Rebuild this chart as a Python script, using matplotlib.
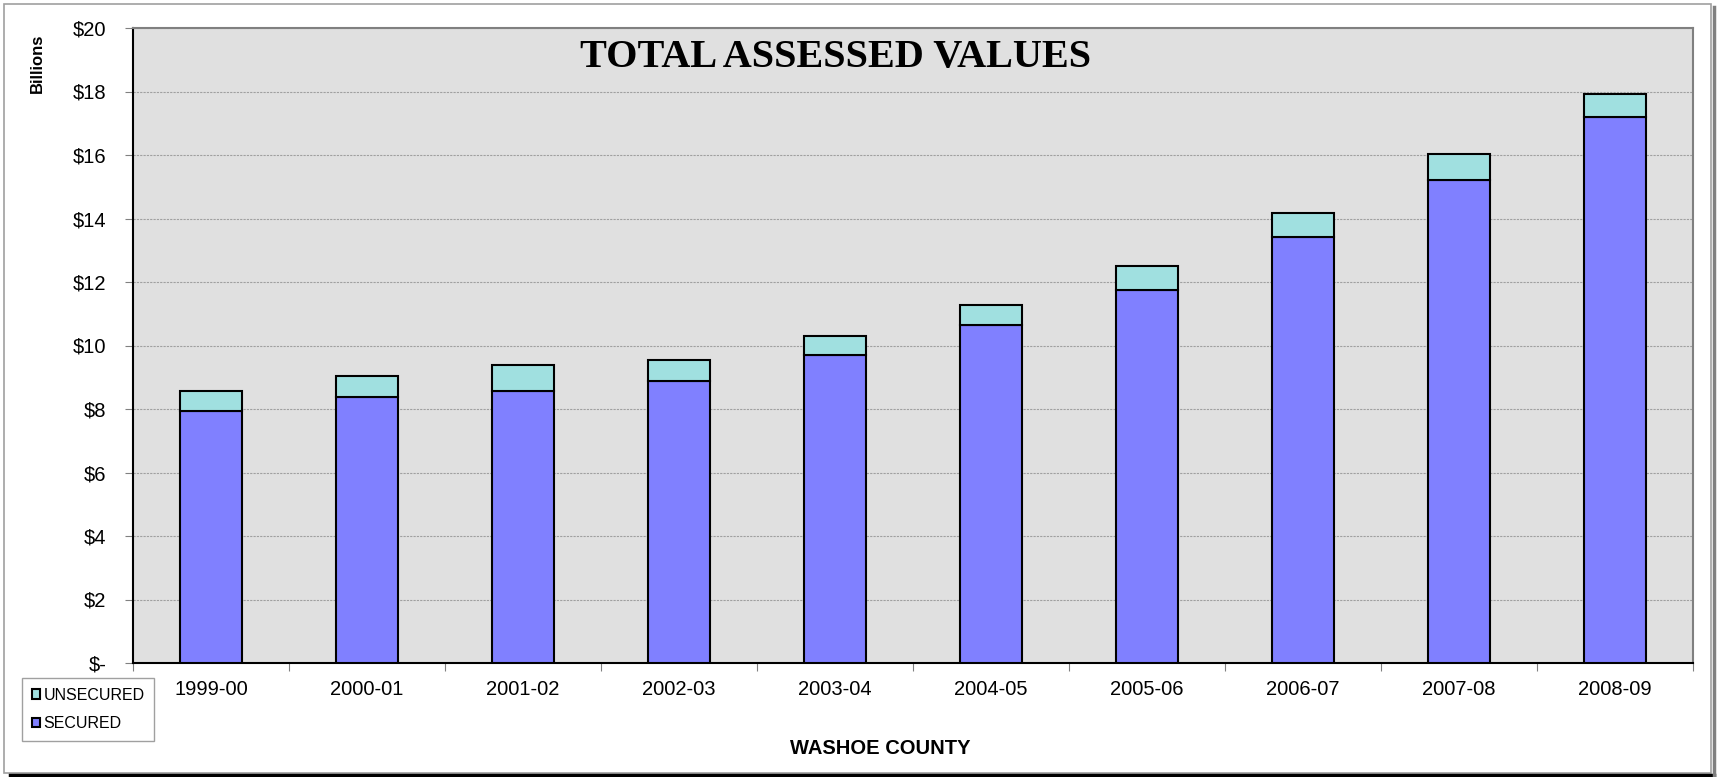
import matplotlib
matplotlib.use('Agg')
import matplotlib.pyplot as plt
import numpy as np
from matplotlib.patches import Rectangle
from matplotlib.lines import Line2D

years = ['1999-00', '2000-01', '2001-02', '2002-03', '2003-04',
         '2004-05', '2005-06', '2006-07', '2007-08', '2008-09']
# billions of dollars
secured = [7.93, 8.37, 8.58, 8.89, 9.70, 10.65, 11.75, 13.42, 15.21, 17.19]
total = [8.58, 9.04, 9.39, 9.53, 10.31, 11.28, 12.50, 14.18, 16.02, 17.93]
unsecured = [t - s for t, s in zip(total, secured)]
ytick_labels = ['$-', '$2', '$4', '$6', '$8', '$10', '$12', '$14', '$16', '$18', '$20']

plt.rcParams['font.family'] = ['Liberation Sans', 'DejaVu Sans']

fig = plt.figure(figsize=(17.17, 7.77), dpi=100)
ax = fig.add_axes([133/1717, 1 - 663/777, (1693 - 133)/1717, (663 - 28)/777])
ax.set_facecolor('#e0e0e0')

x = np.arange(len(years))
ax.bar(x, secured, width=0.4, color='#8080ff', edgecolor='black', linewidth=1.5,
       label='SECURED', zorder=3)
ax.bar(x, unsecured, width=0.4, bottom=secured, color='#a0e0e0', edgecolor='black',
       linewidth=1.5, label='UNSECURED', zorder=3)

ax.set_xlim(-0.5, len(years) - 0.5)
ax.set_ylim(0, 20)
ax.set_yticks(np.arange(0, 21, 2))
ax.set_yticklabels(ytick_labels, fontsize=14.5)
ax.yaxis.grid(True, color='#a0a0a0', linestyle=(0, (2, 1)), linewidth=0.8, zorder=0)

# category boundary ticks, labels in the middle
ax.set_xticks(np.arange(len(years) + 1) - 0.5)
ax.set_xticklabels([])
ax.set_xticks(x, minor=True)
ax.set_xticklabels(years, minor=True, fontsize=14.5)
ax.tick_params(axis='x', which='minor', length=0, pad=12)
ax.tick_params(axis='x', which='major', length=6, color='#808080')
ax.tick_params(axis='y', length=6, color='#808080', pad=13)

for side in ['left', 'bottom']:
    ax.spines[side].set_color('black')
    ax.spines[side].set_linewidth(1.5)
for side in ['top', 'right']:
    ax.spines[side].set_color('#808080')
    ax.spines[side].set_linewidth(1.5)

ax.text(0.4506, 0.9386, 'TOTAL ASSESSED VALUES', transform=ax.transAxes, ha='center',
        va='baseline', fontsize=29, fontweight='bold', family='Liberation Serif')

fig.text(37/1717, 1 - 63/777, 'Billions', rotation=90, ha='center', va='center',
         fontsize=12, fontweight='bold')
fig.text(880/1717, 1 - 748/777, 'WASHOE COUNTY', ha='center', va='center',
         fontsize=14.5, fontweight='bold')

h, l = ax.get_legend_handles_labels()
leg = fig.legend(h[::-1], l[::-1], loc='upper left',
                 bbox_to_anchor=(22/1717, 1 - 678/777), fontsize=11.5,
                 handlelength=0.55, handleheight=0.55, handletextpad=0.2,
                 labelspacing=0.85, borderpad=0.6, borderaxespad=0, fancybox=False,
                 edgecolor='#a0a0a0', framealpha=1)
leg.get_frame().set_linewidth(1)

# figure frame with shadow
fig.patches.append(Rectangle((4/1717, 4/777), 1707/1717, 769/777, transform=fig.transFigure,
                             fill=False, edgecolor='#a0a0a0', linewidth=1.2))
fig.lines.append(Line2D([10/1717, 1714/1717], [2/777, 2/777], transform=fig.transFigure,
                        color='black', linewidth=2.5))
fig.lines.append(Line2D([1714/1717, 1714/1717], [2/777, 770/777], transform=fig.transFigure,
                        color='#808080', linewidth=2.5))

fig.savefig('out.png', dpi=100, facecolor='white')
